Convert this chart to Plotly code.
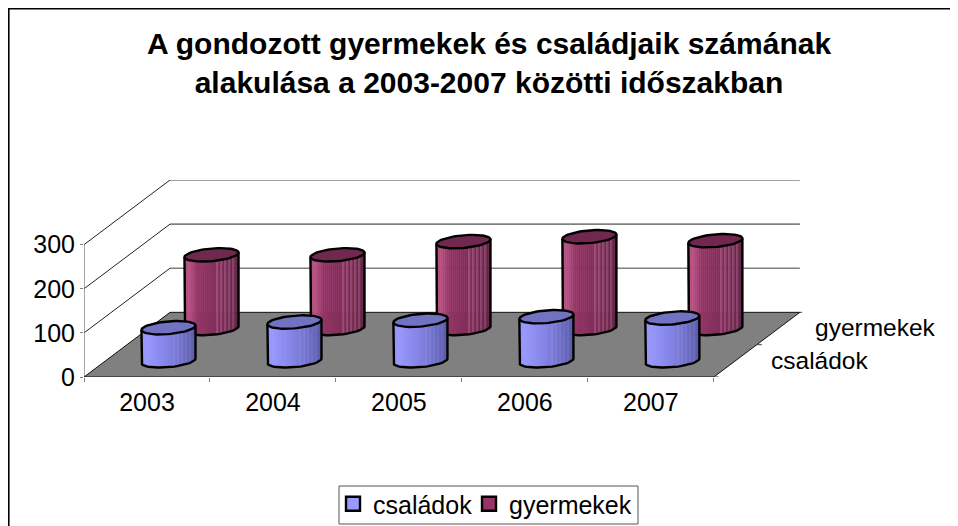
import numpy as np
import plotly.graph_objects as go

years = ["2003", "2004", "2005", "2006", "2007"]
csaladok = [75, 88, 92, 100, 97]
gyermekek = [167, 167, 197, 208, 199]
value_ticks = [0, 100, 200, 300]
series_names = ["családok", "gyermekek"]

DX, DY = 0.683, 146.6      # oblique shift of the full depth, in axis units
A_X, R_D = 0.2025, 0.104   # cylinder radius along category / depth
N = 27
PAGE = 8                   # the page's own body margin
WIDTH, HEIGHT, L, R, T, B = 958 - PAGE, 526 - PAGE, 84 - PAGE, 156, 180 - PAGE, 149
XMAX = 5.7
YMAX = 300 + DY
PW, PH = WIDTH - L - R, HEIGHT - T - B
FONT = "Liberation Sans"
FS = 25


def px(x):
    return (x - PAGE - L) / PW


def py(y):
    return (HEIGHT - B - (y - PAGE)) / PH


def proj(cat, depth, val):
    return cat + depth * DX, val + depth * DY


def circle(c, d0, v, th):
    return proj(c + A_X * np.cos(th), d0 + R_D * np.sin(th), v)


TH_R = np.arctan2(R_D * DX, A_X)


def strips(vals, d0):
    """x-uniform slices of the front of every cylinder, one list per slice."""
    out = []
    for i in range(N):
        t0, t1 = i / N, (i + 1) / N
        th0 = TH_R + np.pi + np.arccos(1 - 2 * t0)
        th1 = TH_R + np.pi + np.arccos(1 - 2 * t1)
        xs, ys = [], []
        for k, v in enumerate(vals):
            c = k + 0.5
            th = np.linspace(th0, th1, 3)
            xb, yb = circle(c, d0, 0, th)
            xt, yt = circle(c, d0, v, th[::-1])
            xs += list(xb) + list(xt) + [xb[0], None]
            ys += list(yb) + list(yt) + [yb[0], None]
        out.append((xs, ys))
    return out


def mix(stops, t):
    pos = [s[0] for s in stops]
    return [float(np.interp(t, pos, [s[1][j] for s in stops])) for j in range(3)]


def rgb(c):
    return "rgb(%d,%d,%d)" % tuple(int(min(255, max(0, x))) for x in c)


def add_series(fig, vals, d0, stops, top_col, stripe):
    for i, (xs, ys) in enumerate(strips(vals, d0)):
        t = (i + 0.5) / N
        c = mix(stops, t)
        if 0.55 < t < 0.92 and i % 2 == 0:
            c = [x + stripe for x in c]
        col = rgb(c)
        fig.add_trace(go.Scatter(x=xs, y=ys, mode="lines", fill="toself", fillcolor=col,
                                 line=dict(color=col, width=0.6), showlegend=False,
                                 hoverinfo="skip", cliponaxis=False))
    tx, ty, ox, oy = [], [], [], []
    th = np.linspace(0, 2 * np.pi, 61)
    front = np.linspace(TH_R + np.pi, TH_R + 2 * np.pi, 31)
    for k, v in enumerate(vals):
        c = k + 0.5
        x, y = circle(c, d0, v, th)
        tx += list(x) + [None]
        ty += list(y) + [None]
        xb, yb = circle(c, d0, 0, front)
        xl, yl = circle(c, d0, v, np.array([TH_R + np.pi]))
        xr, yr = circle(c, d0, v, np.array([TH_R + 2 * np.pi]))
        ox += list(xl) + list(xb) + list(xr) + [None]
        oy += list(yl) + list(yb) + list(yr) + [None]
    fig.add_trace(go.Scatter(x=tx, y=ty, mode="lines", fill="toself", fillcolor=top_col,
                             line=dict(color="black", width=2.4), showlegend=False,
                             hoverinfo="skip", cliponaxis=False))
    fig.add_trace(go.Scatter(x=ox, y=oy, mode="lines", line=dict(color="black", width=2.4),
                             showlegend=False, hoverinfo="skip", cliponaxis=False))


def line_trace(xs, ys, color, width):
    return go.Scatter(x=xs, y=ys, mode="lines", line=dict(color=color, width=width),
                      showlegend=False, hoverinfo="skip", cliponaxis=False)


fig = go.Figure()
n = len(years)

# walls
wx, wy, gx, gy = [], [], [], []
for v in value_ticks[1:]:
    x0, y0 = proj(0, 0, v)
    x1, y1 = proj(0, 1, v)
    x2, y2 = proj(n, 1, v)
    wx += [x0, x1, None]
    wy += [y0, y1, None]
    gx += [x1, x2, None]
    gy += [y1, y2, None]
fig.add_trace(line_trace(gx, gy, "#808080", 1.6))
fig.add_trace(line_trace(wx, wy, "#222222", 1))
fig.add_trace(line_trace([0, 0], [0, 300], "#808080", 1.4))

# floor
cx, cy = zip(proj(0, 0, 0), proj(n, 0, 0), proj(n, 1, 0), proj(0, 1, 0), proj(0, 0, 0))
fig.add_trace(go.Scatter(x=list(cx), y=list(cy), mode="lines", fill="toself", fillcolor="#808080",
                         line=dict(color="#111111", width=1), showlegend=False,
                         hoverinfo="skip", cliponaxis=False))
sx, sy = [], []
for d in [0, 0.5, 1]:
    x, y = proj(n, d, 0)
    sx += [x, x + 0.04, None]
    sy += [y, y, None]
fig.add_trace(line_trace(sx, sy, "#444444", 1))

add_series(fig, gyermekek, 0.75,
           [(0, (155, 55, 105)), (0.07, (190, 85, 135)), (0.25, (150, 52, 102)),
            (0.6, (130, 45, 90)), (1, (100, 35, 70))], "#70284f", 30)
add_series(fig, csaladok, 0.25,
           [(0, (150, 150, 250)), (0.1, (155, 155, 255)), (0.5, (132, 132, 228)),
            (1, (92, 92, 170))], "#7272c2", 10)

# legend entries
for name, col, w in zip(series_names, ["#9999FF", "#993366"], [91, 135]):
    fig.add_trace(go.Scatter(x=[None], y=[None], mode="markers", name=name, legendwidth=w,
                             marker=dict(symbol="square", size=14, color=col,
                                         line=dict(color="black", width=2.4))))

for d, name, shift, ys in [(0.25, series_names[0], 34, 0), (0.75, series_names[1], 35, 1)]:
    x, y = proj(n, d, 0)
    fig.add_annotation(x=x, y=y, text=name, showarrow=False, xanchor="left", yanchor="middle",
                       xshift=shift, yshift=ys, font=dict(family=FONT, size=24.5, color="black"))

frame = dict(color="black", width=1.6)
fig.add_shape(type="line", xref="paper", yref="paper", x0=px(8.8), x1=px(8.8), y0=py(526), y1=py(8), line=frame)
fig.add_shape(type="line", xref="paper", yref="paper", x0=px(8), x1=px(958), y0=py(8.6), y1=py(8.6), line=frame)
fig.add_shape(type="rect", xref="paper", yref="paper", x0=px(339), x1=px(638), y0=py(486), y1=py(524),
              line=dict(color="#555555", width=1), fillcolor="white", layer="below")

fig.update_layout(
    width=WIDTH, height=HEIGHT, autosize=False,
    margin=dict(l=L, r=R, t=T, b=B, autoexpand=False),
    paper_bgcolor="white", plot_bgcolor="rgba(0,0,0,0)",
    font=dict(family=FONT, size=FS, color="black"),
    title=dict(text="A gondozott gyermekek és családjaik számának<br>alakulása a 2003-2007 közötti időszakban",
               x=(489 - PAGE) / WIDTH, xanchor="center", xref="container",
               y=1 - (54 - PAGE) / HEIGHT, yanchor="top", yref="container",
               font=dict(family=FONT, size=30, color="black", weight="bold")),
    xaxis=dict(range=[0, XMAX], showgrid=False, zeroline=False, showline=False,
               tickvals=[i + 0.5 for i in range(n)], ticktext=years, ticks="",
               ticklabelstandoff=8,
               minor=dict(tickvals=list(range(n + 1)), ticks="outside", ticklen=4,
                          tickcolor="#808080", tickwidth=1, showgrid=False)),
    yaxis=dict(range=[0, YMAX], showgrid=False, zeroline=False, showline=False,
               tickvals=value_ticks, ticks="outside", ticklen=3, tickcolor="#808080", tickwidth=1),
    legend=dict(orientation="h", x=px(333), y=py(504), xanchor="left", yanchor="middle",
                bgcolor="rgba(0,0,0,0)", borderwidth=0,
                font=dict(family=FONT, size=FS), itemwidth=30),
)
fig.write_html("out.html")
